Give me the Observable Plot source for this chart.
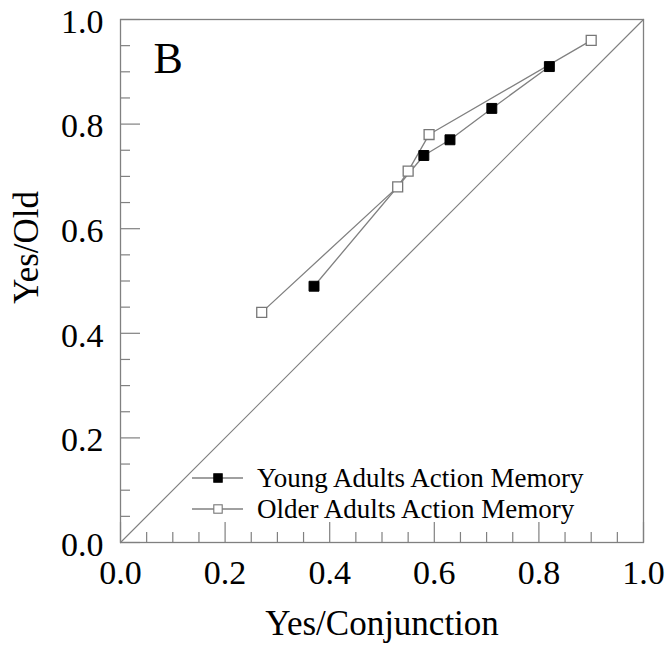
<!DOCTYPE html>
<html>
<head>
<meta charset="utf-8">
<script src="https://cdn.jsdelivr.net/npm/d3@7"></script>
<script src="https://cdn.jsdelivr.net/npm/@observablehq/plot@0.6"></script>
<style>
  html, body { margin: 0; padding: 0; background: #fff; }
  #chart { width: 670px; height: 648px; }
  #chart svg, #chart svg text { font-family: 'Liberation Serif', 'Times New Roman', serif !important; }
</style>
</head>
<body>
<div id="chart"></div>
<script>
// ---- data ----
const youngX = [0.37, 0.58, 0.63, 0.71, 0.82];
const youngY = [0.49, 0.74, 0.77, 0.83, 0.91];
const olderX = [0.27, 0.53, 0.55, 0.59, 0.90];
const olderY = [0.44, 0.68, 0.71, 0.78, 0.96];
const seriesNames = ["Young Adults Action Memory", "Older Adults Action Memory"];
const majorTicks = [0, 0.2, 0.4, 0.6, 0.8, 1.0];
const minorTicks = d3.range(0, 21).map(i => i / 20).filter(v => Math.round(v * 100) % 20 !== 0);
const diag = [0, 1];
const panelLabel = "B";
const xTitle = "Yes/Conjunction";
const yTitle = "Yes/Old";

const young = youngX.map((x, i) => ({x, y: youngY[i]}));
const older = olderX.map((x, i) => ({x, y: olderY[i]}));

const serif = "'Liberation Serif', 'Times New Roman', serif";
const grey = "#808080";
const W = 670, H = 648;
const mL = 120, mR = 27, mT = 19, mB = 106;
const fw = W - mL - mR, fh = H - mT - mB;

const plot = Plot.plot({
  width: W, height: H,
  marginLeft: mL, marginRight: mR, marginTop: mT, marginBottom: mB,
  style: {background: "#fff", color: "#000"},
  x: {domain: [0, 1]},
  y: {domain: [0, 1]},
  marks: [
    Plot.frame({stroke: grey, strokeWidth: 1.3}),
    // inward ticks
    Plot.tickX(minorTicks, {x: d => d, insetTop: fh - 10, stroke: grey, strokeWidth: 1.2}),
    Plot.tickX(majorTicks, {x: d => d, insetTop: fh - 20, stroke: grey, strokeWidth: 1.2}),
    Plot.tickY(minorTicks, {y: d => d, insetRight: fw - 10, stroke: grey, strokeWidth: 1.2}),
    Plot.tickY(majorTicks, {y: d => d, insetRight: fw - 20, stroke: grey, strokeWidth: 1.2}),
    Plot.axisX({ticks: majorTicks, tickFormat: d3.format(".1f"), tickSize: 0, tickPadding: 17,
      fontSize: 34, fontFamily: serif, label: null}),
    Plot.axisY({ticks: majorTicks, tickFormat: d3.format(".1f"), tickSize: 0, tickPadding: 17, dy: 2.5,
      fontSize: 34, fontFamily: serif, label: null}),
    Plot.text([xTitle], {frameAnchor: "bottom", text: d => d, dy: 92, lineAnchor: "bottom", textAnchor: "middle",
      fontSize: 35, fontFamily: serif, fill: "#000"}),
    Plot.text([yTitle], {frameAnchor: "left", text: d => d, rotate: -90, dx: -83, dy: -33.5, lineAnchor: "bottom",
      textAnchor: "middle", fontSize: 35, fontFamily: serif, fill: "#000"}),
    Plot.line(diag, {x: d => d, y: d => d, stroke: grey, strokeWidth: 1.2}),
    Plot.line(older, {x: "x", y: "y", stroke: grey, strokeWidth: 1.3}),
    Plot.line(young, {x: "x", y: "y", stroke: grey, strokeWidth: 1.3}),
    Plot.dot(older, {x: "x", y: "y", symbol: "square", r: 5.6, fill: "#fff", stroke: "#777", strokeWidth: 1.3}),
    Plot.dot(young, {x: "x", y: "y", symbol: "square", r: 5.6, fill: "#000", stroke: "#000", strokeWidth: 1}),
    Plot.text([panelLabel], {frameAnchor: "top-left", text: d => d, dx: 33, dy: 22, fontSize: 44, fontFamily: serif,
      lineAnchor: "top", textAnchor: "start", fill: "#000"})
  ]
});

const svg = d3.select(plot).attr("font-family", serif).style("font-family", serif);

// legend drawn into the same svg
const leg = svg.append("g").attr("font-family", serif).attr("text-anchor", "start");
const legendRows = [
  {name: seriesNames[0], fill: "#000", stroke: "#000"},
  {name: seriesNames[1], fill: "#fff", stroke: "#777"}
];
legendRows.forEach((r, i) => {
  const cy = 478 + i * 31;
  const g = leg.append("g").attr("transform", `translate(0,${cy})`);
  g.append("line").attr("x1", 192).attr("x2", 243).attr("y1", 0).attr("y2", 0).attr("stroke", grey).attr("stroke-width", 1.3);
  g.append("rect").attr("x", 218 - 4.2).attr("y", -4.2).attr("width", 8.4).attr("height", 8.4)
    .attr("fill", r.fill).attr("stroke", r.stroke).attr("stroke-width", 1.1);
  g.append("text").attr("x", 257).attr("y", 0).attr("dy", "0.32em").attr("font-size", 27)
    .attr("text-anchor", "start").attr("fill", "#000").text(r.name);
});

document.getElementById("chart").appendChild(plot);
</script>
</body>
</html>
